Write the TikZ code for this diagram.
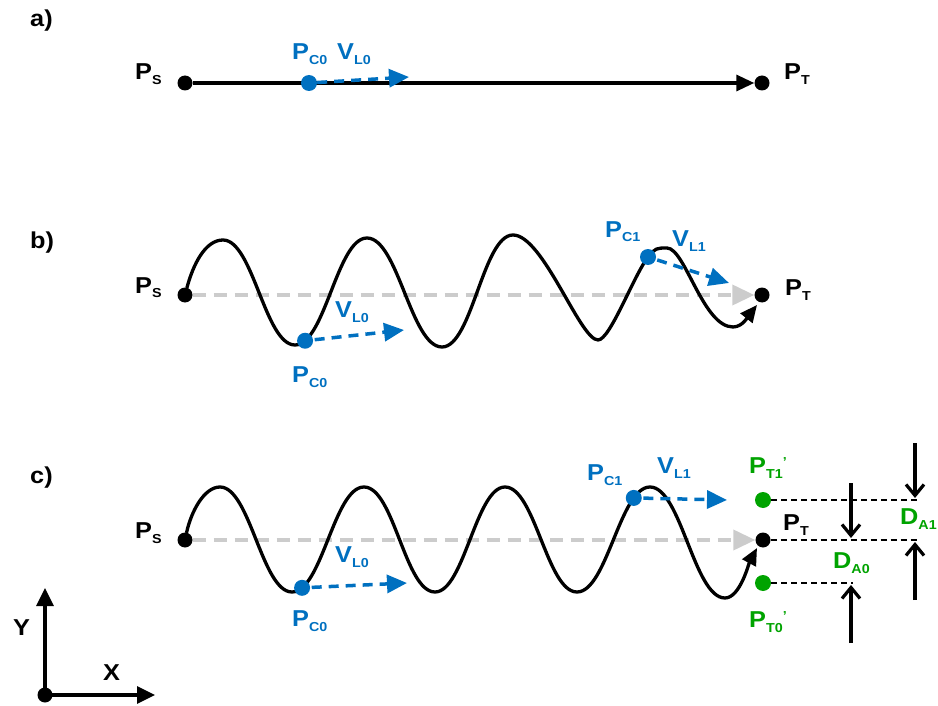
\documentclass[tikz,border=0pt]{standalone}
\usepackage{fontspec}
\setmainfont[FakeStretch=1.1]{Liberation Sans}
\usetikzlibrary{arrows.meta}
\definecolor{cblue}{HTML}{0070C0}
\definecolor{cgreen}{HTML}{00A300}
\definecolor{cgray}{HTML}{CCCCCC}
% label with lowered subscript
\newcommand{\lsub}[2]{#1\raisebox{-5pt}{\fontsize{13}{13}\selectfont #2}}
\newcommand{\lprime}{\raisebox{7pt}{\fontsize{13}{13}\selectfont '}}

\begin{document}
\begin{tikzpicture}[
    x=1pt, y=-1pt,
    font=\fontsize{23}{25}\selectfont\bfseries,
    dot/.style={circle, fill=black, inner sep=0pt, minimum size=15pt},
    bdot/.style={dot, fill=cblue, minimum size=16pt},
    gdot/.style={dot, fill=cgreen, minimum size=16pt},
    lbl/.style={anchor=base west, inner sep=0pt},
    track/.style={line width=3.3pt, -{Triangle[length=18pt, width=16pt]}},
    wave/.style={line width=3.3pt, line cap=round, -{Triangle[length=17pt, width=15pt]}},
    vel/.style={draw=cblue, line width=3.5pt, dash pattern=on 10pt off 7pt,
                -{Triangle[length=20pt, width=18pt]}},
    ref/.style={draw=cgray, line width=3.8pt, dash pattern=on 13pt off 8pt,
                -{Triangle[length=22pt, width=20pt]}},
    gap/.style={line width=1.6pt, dash pattern=on 6pt off 4pt},
    dim/.style={line width=3.2pt, -{Straight Barb[length=11pt, width=18pt]}},
    axis/.style={line width=3.3pt, -{Triangle[length=18pt, width=17pt]}},
]
\useasboundingbox (0,0) rectangle (938,706);

% a) straight track
\node[lbl] (la) at (30,27) {a)};
\node[dot] (a-ps) at (185,83) {};
\node[dot] (a-pt) at (762,83) {};
\draw[track] (a-ps) -- (a-pt);
\node[bdot] (a-pc0) at (309,83) {};
\coordinate (a-vl0) at (409,77);
\draw[vel] (a-pc0) -- (a-vl0);
\node[lbl] at (135,80) {\lsub{P}{S}};
\node[lbl] at (784,80) {\lsub{P}{T}};
\node[lbl, cblue] at (292,60) {\lsub{P}{C0}};
\node[lbl, cblue] at (337,60) {\lsub{V}{L0}};

% b) deviating path
\node[lbl] (lb) at (30,248) {b)};
\node[dot] (b-ps) at (185,295) {};
\node[dot] (b-pt) at (762,295) {};
\draw[ref] (b-ps) -- (b-pt);
\draw[wave] (b-ps) .. controls +(8,-30) and +(-18,0) .. (223,240)
    .. controls +(30,0) and +(-30,0) .. (295,345)
    .. controls +(30,0) and +(-30,0) .. (367,238) node[bdot, pos=0.12] (b-pc0) {}
    .. controls +(31,0) and +(-31,0) .. (442,347)
    .. controls +(30,0) and +(-30,0) .. (513,235)
    .. controls +(30,0) and +(-18,0) .. (598,340)
    .. controls +(12,0) and +(-15,20) .. (648,257) node[bdot, pos=1] (b-pc1) {}
    .. controls +(7,-9) and +(-10,0) .. (667,248)
    .. controls +(18,0) and +(-30,0) .. (733,327)
    .. controls +(10,0) and +(-8,10) .. ([shift={(-5pt,-10pt)}]b-pt.center);
\coordinate (b-vl0) at (404,330);
\coordinate (b-vl1) at (729,283);
\draw[vel] (b-pc0) -- (b-vl0);
\draw[vel] (b-pc1) -- (b-vl1);
\node[lbl] at (135,293) {\lsub{P}{S}};
\node[lbl] at (785,295) {\lsub{P}{T}};
\node[lbl, cblue] at (335,317) {\lsub{V}{L0}};
\node[lbl, cblue] at (292,382) {\lsub{P}{C0}};
\node[lbl, cblue] at (605,237) {\lsub{P}{C1}};
\node[lbl, cblue] at (672,247) {\lsub{V}{L1}};

% c) deviation from target
\node[lbl] (lc) at (30,483) {c)};
\node[dot] (c-ps) at (185,540) {};
\node[dot] (c-pt) at (763,540) {};
\node[gdot] (c-pt1) at (763,500) {};
\node[gdot] (c-pt0) at (763,583) {};
\draw[ref] (c-ps) -- (c-pt);
\draw[wave] (c-ps) .. controls +(6,-28) and +(-16,0) .. (220,487)
    .. controls +(30,0) and +(-30,0) .. (292,592)
    .. controls +(30,0) and +(-30,0) .. (364,487) node[bdot, pos=0.12] (c-pc0) {}
    .. controls +(30,0) and +(-30,0) .. (435,592)
    .. controls +(29,0) and +(-29,0) .. (505,487)
    .. controls +(30,0) and +(-30,0) .. (577,592)
    .. controls +(30,0) and +(-30,0) .. (650,487) node[bdot, pos=0.8] (c-pc1) {}
    .. controls +(31,0) and +(-31,0) .. (725,598)
    .. controls +(15,0) and +(-8,15) .. ([shift={(-6pt,-8pt)}]c-pt.center);
\coordinate (c-vl0) at (407,583);
\coordinate (c-vl1) at (727,500);
\draw[vel] (c-pc0) -- (c-vl0);
\draw[vel] (c-pc1) -- (c-vl1);
\node[lbl] at (135,538) {\lsub{P}{S}};
\node[lbl] at (783,530) {\lsub{P}{T}};
\node[lbl, cblue] at (335,562) {\lsub{V}{L0}};
\node[lbl, cblue] at (292,626) {\lsub{P}{C0}};
\node[lbl, cblue] at (587,480) {\lsub{P}{C1}};
\node[lbl, cblue] at (657,473) {\lsub{V}{L1}};
\node[lbl, cgreen] at (749,473) {\lsub{P}{T1}\lprime};
\node[lbl, cgreen] at (749,627) {\lsub{P}{T0}\lprime};

% deviation measures
\coordinate (e1) at (917,500);
\coordinate (e) at (917,540);
\coordinate (e0) at (853,583);
\draw[gap] (c-pt1) -- (e1);
\draw[gap] (c-pt) -- (e);
\draw[gap] (c-pt0) -- (e0);
\coordinate (d0a) at (851,483);
\coordinate (d0b) at (851,538);
\coordinate (d0c) at (851,643);
\coordinate (d0d) at (851,585);
\draw[dim] (d0a) -- (d0b);
\draw[dim] (d0c) -- (d0d);
\coordinate (d1a) at (915,443);
\coordinate (d1b) at (915,498);
\coordinate (d1c) at (915,600);
\coordinate (d1d) at (915,542);
\draw[dim] (d1a) -- (d1b);
\draw[dim] (d1c) -- (d1d);
\node[lbl, cgreen] at (833,568) {\lsub{D}{A0}};
\node[lbl, cgreen] at (900,524) {\lsub{D}{A1}};

% axes
\node[dot] (o) at (45,695) {};
\coordinate (ye) at (45,588);
\coordinate (xe) at (155,695);
\draw[axis] (o.center) -- (ye);
\draw[axis] (o.center) -- (xe);
\node[lbl] at (13,635) {Y};
\node[lbl] at (103,680) {X};
\end{tikzpicture}
\end{document}
